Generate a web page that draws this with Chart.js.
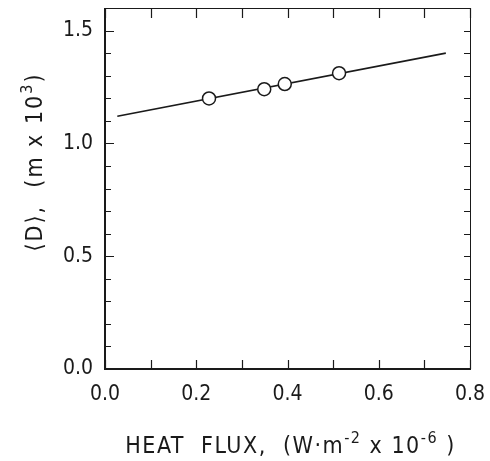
<!DOCTYPE html>
<html>
<head>
<meta charset="utf-8">
<script src="https://cdn.jsdelivr.net/npm/chart.js@4"></script>
<style>
  body { margin: 0; background: #fff; }
  #wrap { width: 490px; height: 461px; }
</style>
</head>
<body>
<div id="wrap"><canvas id="chart" width="490" height="461"></canvas></div>
<script>
// measured points (heat flux, mean diameter)
const fluxValues = [0.228, 0.349, 0.394, 0.513];
const diameterValues = [1.199, 1.240, 1.263, 1.311];

// fitted line, end points
const fitFlux = [0.027, 0.747];
const fitDiameter = [1.12, 1.40];

const xLabelEvery = [0.0, 0.2, 0.4, 0.6, 0.8];
const yLabelEvery = [0.0, 0.5, 1.0, 1.5];

const FONT = "'Liberation Sans Narrow', 'DejaVu Sans Condensed', 'Liberation Sans', sans-serif";
const INK = "#1a1a1a";

function isIn(list, v) {
  return list.some((l) => Math.abs(l - v) < 1e-6);
}

// inward tick marks on all four sides + frame
const frameTicks = {
  id: "frameTicks",
  afterDatasetsDraw(chart) {
    const { ctx, chartArea: a, scales } = chart;
    const x = scales.x, y = scales.y;
    ctx.save();
    ctx.strokeStyle = INK;

    // top + right, thinner
    ctx.lineWidth = 1;
    ctx.beginPath();
    ctx.moveTo(a.left, a.top + 0.5);
    ctx.lineTo(a.right + 0.5, a.top + 0.5);
    ctx.lineTo(a.right + 0.5, a.bottom);
    ctx.stroke();

    ctx.lineWidth = 1.2;
    x.ticks.forEach((t) => {
      const px = Math.round(x.getPixelForValue(t.value)) + 0.5;
      ctx.beginPath();
      ctx.moveTo(px, a.bottom);
      ctx.lineTo(px, a.bottom - 9);
      ctx.moveTo(px, a.top);
      ctx.lineTo(px, a.top + 10);
      ctx.stroke();
    });
    y.ticks.forEach((t) => {
      const py = Math.round(y.getPixelForValue(t.value)) + 0.5;
      const len = isIn(yLabelEvery, t.value) ? 9 : 6;
      ctx.beginPath();
      ctx.moveTo(a.left, py);
      ctx.lineTo(a.left + len, py);
      ctx.moveTo(a.right, py);
      ctx.lineTo(a.right - 6, py);
      ctx.stroke();
    });

    // left + bottom, heavier
    ctx.lineWidth = 2;
    ctx.beginPath();
    ctx.moveTo(a.left, a.top);
    ctx.lineTo(a.left, a.bottom);
    ctx.lineTo(a.right + 1, a.bottom);
    ctx.stroke();
    ctx.restore();
  },
};

// axis titles with real superscripts
function drawRun(ctx, parts, big, small) {
  let cx = 0;
  parts.forEach((p) => {
    ctx.font = (p.sup ? small : big) + "px " + FONT;
    ctx.fillText(p.t, cx, p.sup ? -10 : 0);
    cx += ctx.measureText(p.t).width;
  });
}
function runWidth(ctx, parts, big, small) {
  let w = 0;
  parts.forEach((p) => {
    ctx.font = (p.sup ? small : big) + "px " + FONT;
    w += ctx.measureText(p.t).width;
  });
  return w;
}

const xTitle = [
  { t: "HEAT  FLUX,  (W·m" }, { t: "-2", sup: true }, { t: " x 10" }, { t: "-6", sup: true }, { t: " )" },
];
const yTitle = [
  { t: "⟨D⟩,  (m x 10" }, { t: "3", sup: true }, { t: ")" },
];

const axisTitles = {
  id: "axisTitles",
  afterDraw(chart) {
    const { ctx, chartArea: a } = chart;
    ctx.save();
    ctx.fillStyle = INK;
    ctx.textBaseline = "alphabetic";
    ctx.letterSpacing = "1.5px";
    const cx = (a.left + a.right) / 2 + 3;
    const wx = runWidth(ctx, xTitle, 23, 16);
    ctx.translate(cx - wx / 2, 453);
    drawRun(ctx, xTitle, 23, 16);
    ctx.restore();

    ctx.save();
    ctx.fillStyle = INK;
    ctx.letterSpacing = "2px";
    const wy = runWidth(ctx, yTitle, 23, 16);
    ctx.translate(42, 162 + wy / 2);
    ctx.rotate(-Math.PI / 2);
    drawRun(ctx, yTitle, 23, 16);
    ctx.restore();
  },
};

const ctx = document.getElementById("chart").getContext("2d");
new Chart(ctx, {
  type: "scatter",
  data: {
    datasets: [
      {
        label: "points",
        data: fluxValues.map((v, i) => ({ x: v, y: diameterValues[i] })),
        pointRadius: 6.5,
        pointBackgroundColor: "#ffffff",
        pointBorderColor: INK,
        pointBorderWidth: 1.5,
        order: 1,
      },
      {
        label: "fit",
        data: fitFlux.map((v, i) => ({ x: v, y: fitDiameter[i] })),
        showLine: true,
        borderColor: INK,
        borderWidth: 1.6,
        pointRadius: 0,
        order: 2,
      },
    ],
  },
  options: {
    responsive: false,
    animation: false,
    layout: { padding: { top: 7, right: 20, left: 0, bottom: 0 } },
    plugins: { legend: { display: false }, tooltip: { enabled: false } },
    scales: {
      x: {
        type: "linear",
        min: 0,
        max: 0.8,
        grid: { display: false },
        border: { display: false },
        afterFit: (s) => { s.height = 92; s.paddingLeft = 0; s.paddingRight = 0; },
        ticks: {
          stepSize: 0.1,
          autoSkip: false,
          maxRotation: 0,
          padding: 5,
          color: INK,
          font: { family: FONT, size: 21 },
          callback: (v) => (isIn(xLabelEvery, v) ? v.toFixed(1) : ""),
        },
      },
      y: {
        type: "linear",
        min: 0,
        max: 1.6,
        grid: { display: false },
        border: { display: false },
        afterFit: (s) => { s.width = 105; s.paddingTop = 0; s.paddingBottom = 0; },
        ticks: {
          stepSize: 0.1,
          autoSkip: false,
          padding: 4,
          color: INK,
          font: { family: FONT, size: 21 },
          callback: (v) => (isIn(yLabelEvery, v) ? v.toFixed(1) : ""),
        },
      },
    },
  },
  plugins: [frameTicks, axisTitles],
});
</script>
</body>
</html>
